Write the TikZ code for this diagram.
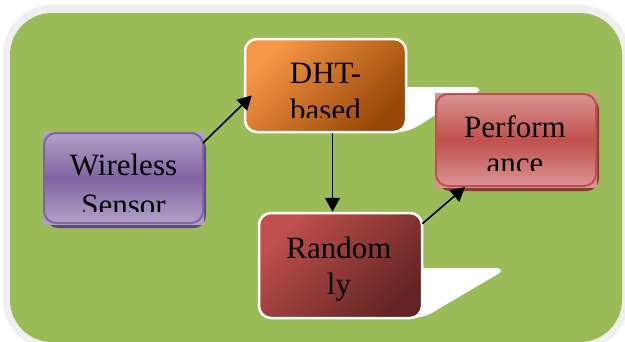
\documentclass[tikz,border=0pt]{standalone}
\usepackage{fontspec}
\setmainfont{Liberation Serif}
\usetikzlibrary{arrows.meta}
\definecolor{bggreen}{HTML}{9BBB59}
\definecolor{bggray}{HTML}{EFEFEF}
\definecolor{orlight}{HTML}{F79646}
\definecolor{ordark}{HTML}{974706}
\definecolor{pulight}{HTML}{B3A2C7}
\definecolor{pumid}{HTML}{8064A2}
\definecolor{pushadow}{HTML}{5F497A}
\definecolor{pklight}{HTML}{D99694}
\definecolor{pkmid}{HTML}{C0504D}
\definecolor{pkshadow}{HTML}{8C3836}
\definecolor{rdlight}{HTML}{C0504D}
\definecolor{rddark}{HTML}{632523}
\tikzset{
  boxbase/.style={rectangle, rounded corners=12pt, inner sep=0pt},
  diagbox/.style={boxbase, draw=white, line width=2.5pt},
  label/.style={anchor=base, inner sep=0pt, font=\fontsize{31}{37}\selectfont},
  conn/.style={line width=1.6pt, -{Triangle[length=14pt,width=15pt]}},
  perspshadow/.style={fill=white},
}
\begin{document}
\begin{tikzpicture}[x=1pt,y=-1pt]
\useasboundingbox (0,0) rectangle (625,341);
\clip (0,0) rectangle (625,341);
% background panel
\fill[white] (0,0) rectangle (625,341);
\fill[bggray, rounded corners=49pt] (3,5) rectangle (629,349);
\fill[bggreen, rounded corners=42pt] (10,13) rectangle (622,342);

% white perspective shadows
\fill[perspshadow] (400,87) -- (474,87) .. controls (480,87) and (481,91) .. (476,93)
  -- (440,112) .. controls (425,121) and (416,130) .. (400,132) -- cycle;
\fill[perspshadow] (416,268) -- (495,268) .. controls (502,268) and (503,272) .. (498,274)
  -- (440,308) .. controls (432,313) and (426,317) .. (414,318) -- cycle;

% Wireless Sensor box
\fill[pushadow, rounded corners=12pt] (46,136) rectangle (206,228);
\shade[top color=pulight, bottom color=pulight, middle color=pumid] (43,132) rectangle (204,224);
\node[boxbase, draw=pumid, line width=2pt, minimum width=159pt, minimum height=90pt] (ws) at (123.5,178) {};

% Performance box
\fill[pkshadow, rounded corners=12pt] (438,97) rectangle (599,191);
\shade[top color=pklight, bottom color=pklight, middle color=pkmid] (435,93) rectangle (597,187);
\node[boxbase, draw=pkmid, line width=2pt, minimum width=160pt, minimum height=92pt] (perf) at (516,140) {};

% DHT-based box
\node[diagbox, top color=orlight, bottom color=ordark, shading angle=45, minimum width=161pt, minimum height=93pt] (dht) at (325.5,85.5) {};

% Randomly box
\node[diagbox, top color=rdlight, bottom color=rddark, shading angle=45, minimum width=163pt, minimum height=105pt] (rnd) at (340.5,265.5) {};

% texts
\node[label] (dht1) at (325.5,83) {DHT-};
\begin{scope}
  \clip (245,39) rectangle (406,117);
  \node[label] (dht2) at (325.5,120) {based};
\end{scope}
\node[label] (ws1) at (123.5,175) {Wireless};
\begin{scope}
  \clip (43,132) rectangle (204,211);
  \node[label] (ws2) at (123.5,215) {Sensor};
\end{scope}
\node[label] (perf1) at (515,137) {Perform};
\begin{scope}
  \clip (435,93) rectangle (597,170);
  \node[label] (perf2) at (515,173) {ance};
\end{scope}
\node[label] (rnd1) at (339,258) {Random};
\node[label] (rnd2) at (339,294) {ly};

% connectors
\draw[conn] ([shift={(-1,11)}]ws.north east) -- ([shift={(8,10)}]dht.west);
\draw[conn] ([xshift=7pt]dht.south) -- ([xshift=7pt]dht.south |- rnd.north);
\draw[conn] ([shift={(-1,12)}]rnd.north east) -- ([xshift=-51pt]perf.south);
\end{tikzpicture}
\end{document}
